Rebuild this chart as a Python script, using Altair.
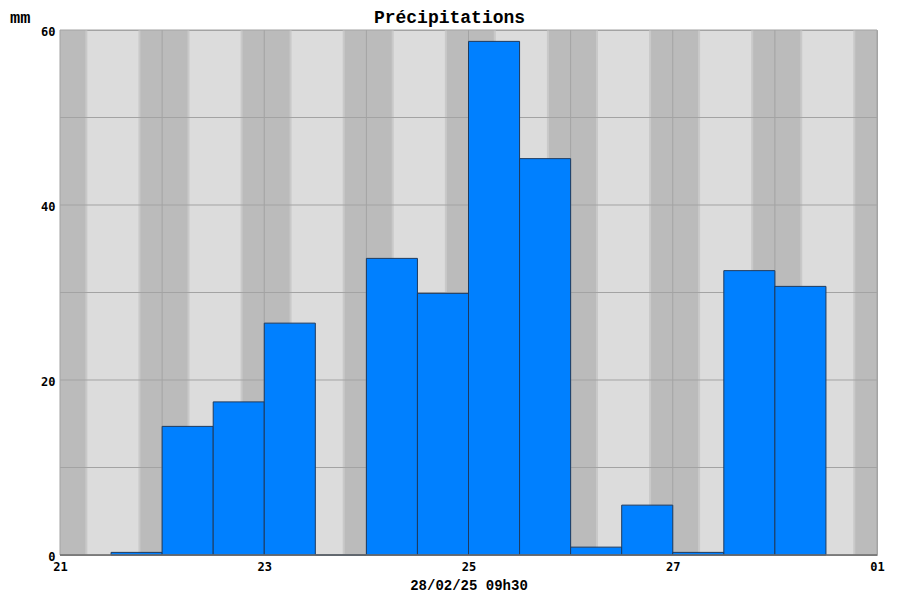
import altair as alt
import pandas as pd

# ---- data ----
# time axis in days since 21/02 00h00
day_ticks = [0, 1, 2, 3, 4, 5, 6, 7, 8]
day_labels = ["21", "22", "23", "24", "25", "26", "27", "28", "01"]
bar_start = [0.5, 1.0, 1.5, 2.0, 2.5, 3.0, 3.5, 4.0, 4.5, 5.0, 5.5, 6.0, 6.5, 7.0]
bar_end = [1.0, 1.5, 2.0, 2.5, 3.0, 3.5, 4.0, 4.5, 5.0, 5.5, 6.0, 6.5, 7.0, 7.5]
precip_mm = [0.3, 14.7, 17.5, 26.5, 0.0, 33.9, 29.9, 58.7, 45.3, 0.9, 5.7, 0.3, 32.5, 30.7]
# night periods (sunset -> sunrise)
night_start = [0.0, 0.788, 1.788, 2.788, 3.788, 4.788, 5.788, 6.788, 7.788]
night_end = [0.248, 1.248, 2.248, 3.248, 4.248, 5.248, 6.248, 7.248, 8.0]
y_grid = [0, 10, 20, 30, 40, 50, 60]
y_label_values = [0, 20, 40, 60]
title_text = ["Précipitations"]
unit_text = ["mm"]
footer_text = "28/02/25 09h30"

bars = pd.DataFrame({"start": bar_start, "end": bar_end, "mm": precip_mm})
nights = pd.DataFrame({"start": night_start, "end": night_end})
vgrid = pd.DataFrame({"d": day_ticks})
hgrid = pd.DataFrame({"v": y_grid})
unit = pd.DataFrame({"t": unit_text})
title_df = pd.DataFrame({"t": title_text})

label_map = "{" + ",".join(f"'{d}':'{l}'" for d, l in zip(day_ticks, day_labels)) + "}"

xscale = alt.Scale(domain=[0, 8], nice=False, zero=False)
yscale = alt.Scale(domain=[0, 60], nice=False)

mono = "DejaVu Sans Mono"
courier = "Liberation Mono"

x_axis = alt.Axis(
    values=day_ticks,
    labelExpr=f"(datum.value % 2 == 0) ? {label_map}[''+datum.value] : ''",
    grid=False, domain=False, ticks=False,
    labelFont=mono, labelFontSize=12, labelFontWeight="bold", labelColor="black",
    labelPadding=6, labelFlush=False, labelOverlap=False,
    title=footer_text, titleFont=courier, titleFontSize=14, titleFontWeight="bold",
    titleColor="black", titlePadding=6,
)
y_axis = alt.Axis(
    values=y_label_values,
    grid=False, domain=False, ticks=False,
    labelFont=mono, labelFontSize=12, labelFontWeight="bold", labelColor="black",
    labelPadding=5, labelFlush=False, labelOverlap=False, labelOffset=1.5,
    title=None,
)

# soft edges of night bands
night_soft = alt.Chart(nights).mark_rect(color="#c9c9c9").encode(
    x=alt.X("s:Q", scale=xscale, axis=x_axis),
    x2="e:Q",
    y=alt.Y("y0:Q", scale=yscale, axis=y_axis),
    y2="y1:Q",
).transform_calculate(
    s="max(datum.start - 0.02, 0)", e="min(datum.end + 0.02, 8)", y0="0", y1="60"
)

night = alt.Chart(nights).mark_rect(color="#bbbbbb").encode(
    x=alt.X("start:Q", scale=xscale),
    x2="end:Q",
    y=alt.Y("y0:Q", scale=yscale),
    y2="y1:Q",
).transform_calculate(y0="0", y1="60")

vrules = alt.Chart(vgrid).mark_rule(color="#a3a3a3", strokeWidth=1).encode(
    x=alt.X("d:Q", scale=xscale)
)
hrules = alt.Chart(hgrid).mark_rule(color="#a3a3a3", strokeWidth=1).encode(
    y=alt.Y("v:Q", scale=yscale)
)

bar_layer = alt.Chart(bars).mark_rect(
    color="#0080ff", stroke="#1d3a5e", strokeWidth=1
).encode(
    x=alt.X("start:Q", scale=xscale),
    x2="end:Q",
    y=alt.Y("mm:Q", scale=yscale),
    y2=alt.Y2(datum=0),
)

base_line = alt.Chart(hgrid[hgrid.v == 0]).mark_rule(color="#6e6e6e", strokeWidth=1.5).encode(
    y=alt.Y("v:Q", scale=yscale)
)

unit_layer = alt.Chart(unit).mark_text(
    font=courier, fontSize=17, fontWeight="bold", align="left", baseline="middle", color="black"
).encode(x=alt.value(-50), y=alt.value(-12), text="t:N")

title_layer = alt.Chart(title_df).mark_text(
    font=courier, fontSize=18, fontWeight="bold", align="center", baseline="middle", color="black"
).encode(x=alt.value(389.5), y=alt.value(-12), text="t:N")

chart = alt.layer(
    night_soft, night, vrules, hrules, bar_layer, base_line, unit_layer, title_layer
).properties(
    width=817,
    height=525,
    autosize=alt.AutoSizeParams(type="none"),
    padding={"left": 52, "top": 22, "right": 15, "bottom": 37},
    background="white",
).configure_view(
    fill="#dcdcdc", stroke="#a3a3a3", strokeWidth=1
)

chart.save("out.html", embed_options={"renderer": "svg", "actions": False})
